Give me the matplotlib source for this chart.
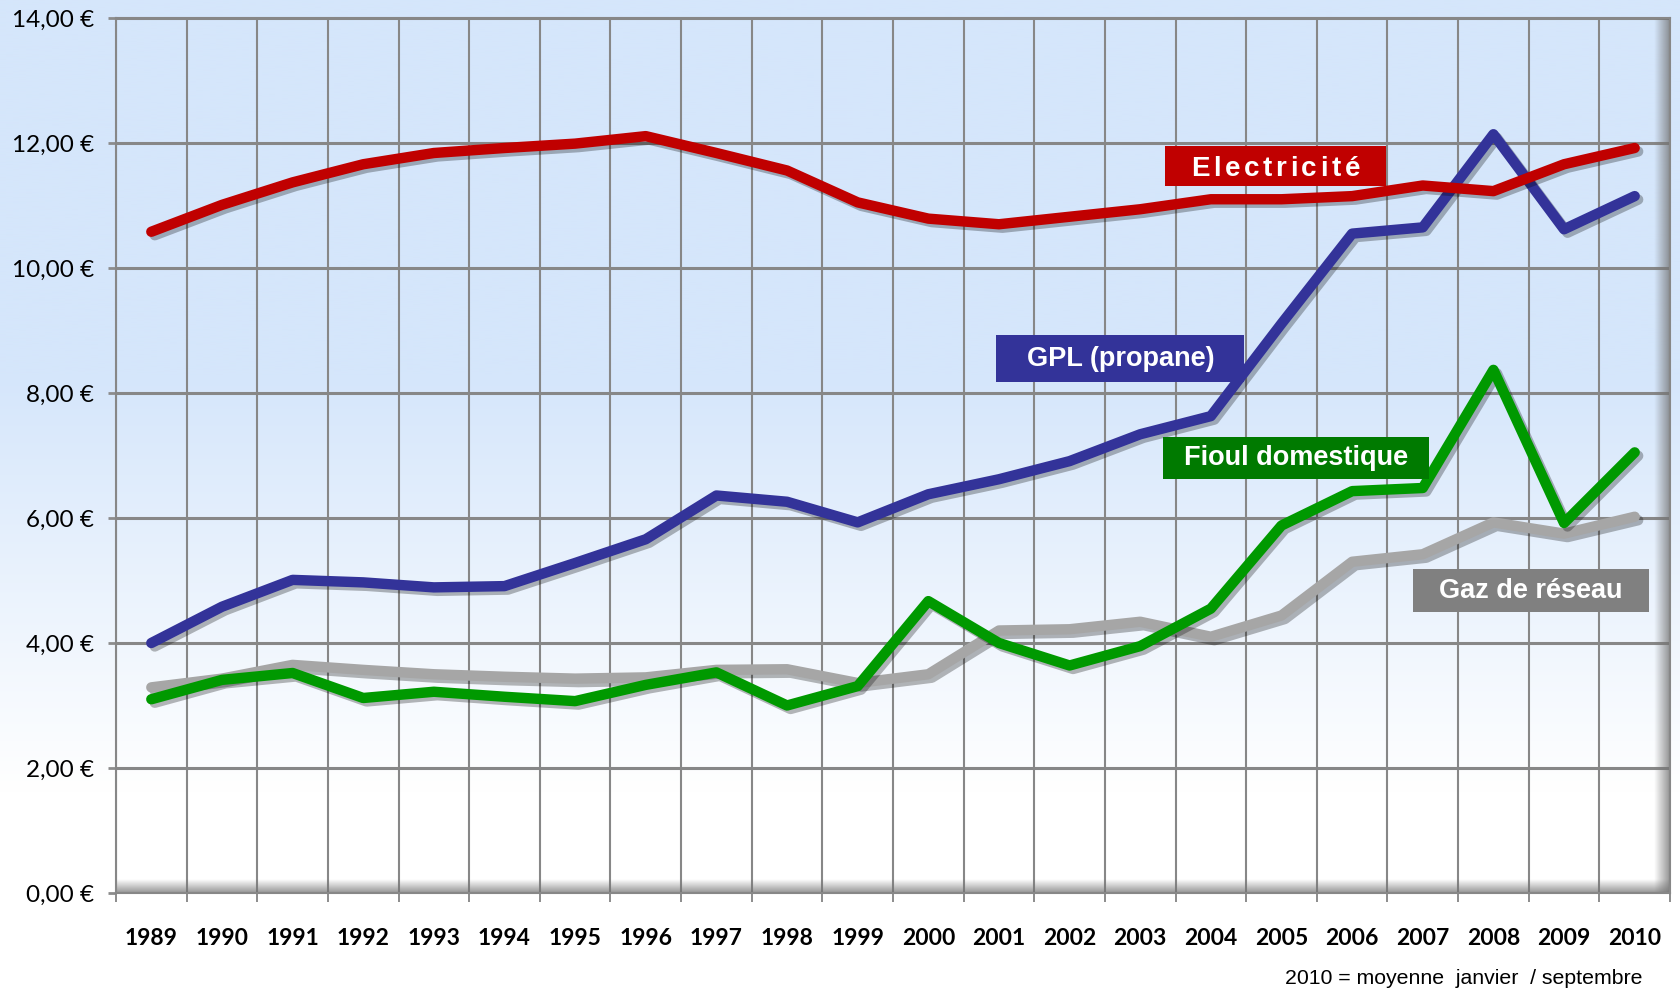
import numpy as np
import matplotlib.pyplot as plt
import matplotlib.patheffects as pe
from matplotlib.patches import Rectangle
from matplotlib.ticker import FuncFormatter, MultipleLocator
from matplotlib.textpath import TextToPath
from matplotlib.font_manager import FontProperties

plt.rcParams['font.family'] = ['Lato', 'DejaVu Sans']

# prix (euros) par annee
annees = [str(a) for a in range(1989, 2011)]
electricite = [10.58, 11.01, 11.37, 11.66, 11.84, 11.92, 11.99, 12.11, 11.84, 11.56, 11.05,
               10.79, 10.70, 10.82, 10.94, 11.10, 11.10, 11.15, 11.32, 11.23, 11.66, 11.92]
gpl = [4.00, 4.58, 5.01, 4.97, 4.89, 4.91, 5.28, 5.66, 6.36, 6.26, 5.93,
       6.38, 6.62, 6.91, 7.34, 7.63, 9.11, 10.55, 10.65, 12.14, 10.62, 11.15]
fioul = [3.10, 3.41, 3.52, 3.12, 3.22, 3.14, 3.07, 3.33, 3.53, 3.00, 3.31,
         4.67, 4.00, 3.64, 3.95, 4.55, 5.88, 6.43, 6.48, 8.37, 5.92, 7.05]
gaz = [3.29, 3.43, 3.65, 3.57, 3.50, 3.46, 3.43, 3.45, 3.57, 3.58, 3.36,
       3.50, 4.20, 4.22, 4.34, 4.10, 4.44, 5.30, 5.42, 5.93, 5.75, 6.02]

W, H = 1681, 989
fig = plt.figure(figsize=(W / 100, H / 100), dpi=100)

# fond degrade bleu -> blanc
bg = fig.add_axes([0, 0, 1, 1], zorder=-10)
t = np.linspace(0, 1, 500)
top = np.array([213, 230, 251]) / 255
bot = np.array([255, 255, 255]) / 255
f = np.clip((t - 0.38) / (0.80 - 0.38), 0, 1)[:, None]
grad = (top * (1 - f) + bot * f)[:, None, :]
bg.imshow(grad, aspect='auto', extent=[0, 1, 0, 1])
bg.axis('off')

ax = fig.add_axes([116 / W, 1 - 893 / H, (1670 - 116) / W, (893 - 18) / H])
ax.set_facecolor('none')
x = np.arange(len(annees))

ombre = [pe.SimpleLineShadow(offset=(2.5, -2.5), shadow_color='black', alpha=0.28), pe.Normal()]
style = dict(lw=7.5, solid_capstyle='round', solid_joinstyle='round', path_effects=ombre)
ax.plot(x, gpl, color='#333399', zorder=3, **style)
ax.plot(x, gaz, color='#a6a6a6', zorder=4, **style)
ax.plot(x, fioul, color='#009900', zorder=5, **style)
ax.plot(x, electricite, color='#c00000', zorder=6, **style)

# etiquettes des series
px_x = (1670 - 116) / 22
px_y = (893 - 18) / 14
ttp = TextToPath()


def etiquette(cx_px, cy_px, wpx, hpx, texte, couleur, taille, espace=0.0):
    cx = (cx_px - 116) / px_x - 0.5
    cy = (893 - cy_px) / px_y
    w, h = wpx / px_x, hpx / px_y
    ax.add_patch(Rectangle((cx - w / 2, cy - h / 2), w, h, facecolor=couleur,
                           edgecolor='none', zorder=8))
    if espace == 0:
        ax.text(cx, cy, texte, color='white', fontsize=taille, fontweight='bold',
                family='Liberation Sans', ha='center', va='center', zorder=9)
        return
    prop = FontProperties(family='Liberation Sans', weight='bold', size=taille)
    larg = [ttp.get_text_width_height_descent(texte[:i], prop, ismath=False)[0] if i else 0
            for i in range(len(texte) + 1)]
    total = larg[-1] + espace * (len(texte) - 1)
    for i, ch in enumerate(texte):
        dx = larg[i] + espace * i - total / 2
        ax.annotate(ch, (cx, cy), xytext=(dx, -0.36 * taille), textcoords='offset points',
                    color='white', fontsize=taille, fontweight='bold', family='Liberation Sans',
                    ha='left', va='baseline', zorder=9)


etiquette(1275.6, 165.8, 221, 40, 'Electricité', '#c00000', 20, espace=2.6)
etiquette(1120.5, 358.5, 248, 47, 'GPL (propane)', '#333399', 19.5)
etiquette(1296, 458, 266, 42, 'Fioul domestique', '#007a00', 19.5)
etiquette(1531, 590.5, 236, 43, 'Gaz de réseau', '#808080', 19.5)

# ombres du cadre (bas et droite)
sh = np.zeros((30, 1, 4))
sh[..., :3] = 0.45
sh[:, 0, 3] = np.linspace(0, 0.75, 30)
ax.imshow(sh, extent=[0, 1, 0, 0.015], transform=ax.transAxes, aspect='auto', zorder=2)
sr = np.zeros((1, 30, 4))
sr[..., :3] = 0.45
sr[0, :, 3] = np.linspace(0, 0.75, 30)
ax.imshow(sr, extent=[0.99, 1, 0, 1], transform=ax.transAxes, aspect='auto', zorder=2)

ax.set_xlim(-0.5, 21.5)
ax.set_ylim(0, 14)
ax.set_xticks(x)
ax.set_xticklabels(annees, fontweight='bold', fontsize=16.5)
ax.set_xticks(np.arange(-0.5, 22, 1), minor=True)
ax.tick_params(axis='x', which='major', length=0, pad=25)
ax.tick_params(axis='x', which='minor', length=6.5, width=1.4, color='#8c8c8c', direction='out')
ax.yaxis.set_major_locator(MultipleLocator(2))
ax.yaxis.set_major_formatter(FuncFormatter(lambda v, p: f"{v:.2f}".replace('.', ',') + ' €'))
ax.tick_params(axis='y', length=5.8, width=2, color='#8c8c8c', pad=10, labelsize=17.5)
ax.grid(axis='x', which='minor', color='#878787', linewidth=1.5)
ax.grid(axis='y', which='major', color='#878787', linewidth=2.2)
ax.set_axisbelow(True)
for s in ax.spines.values():
    s.set_color('#878787')
    s.set_linewidth(1.5)

fig.text(1643 / W, 1 - 978 / H, '2010 = moyenne  janvier  / septembre', family='Liberation Sans',
         fontsize=15.3, ha='right', va='center')

fig.savefig('out.png', dpi=100)
